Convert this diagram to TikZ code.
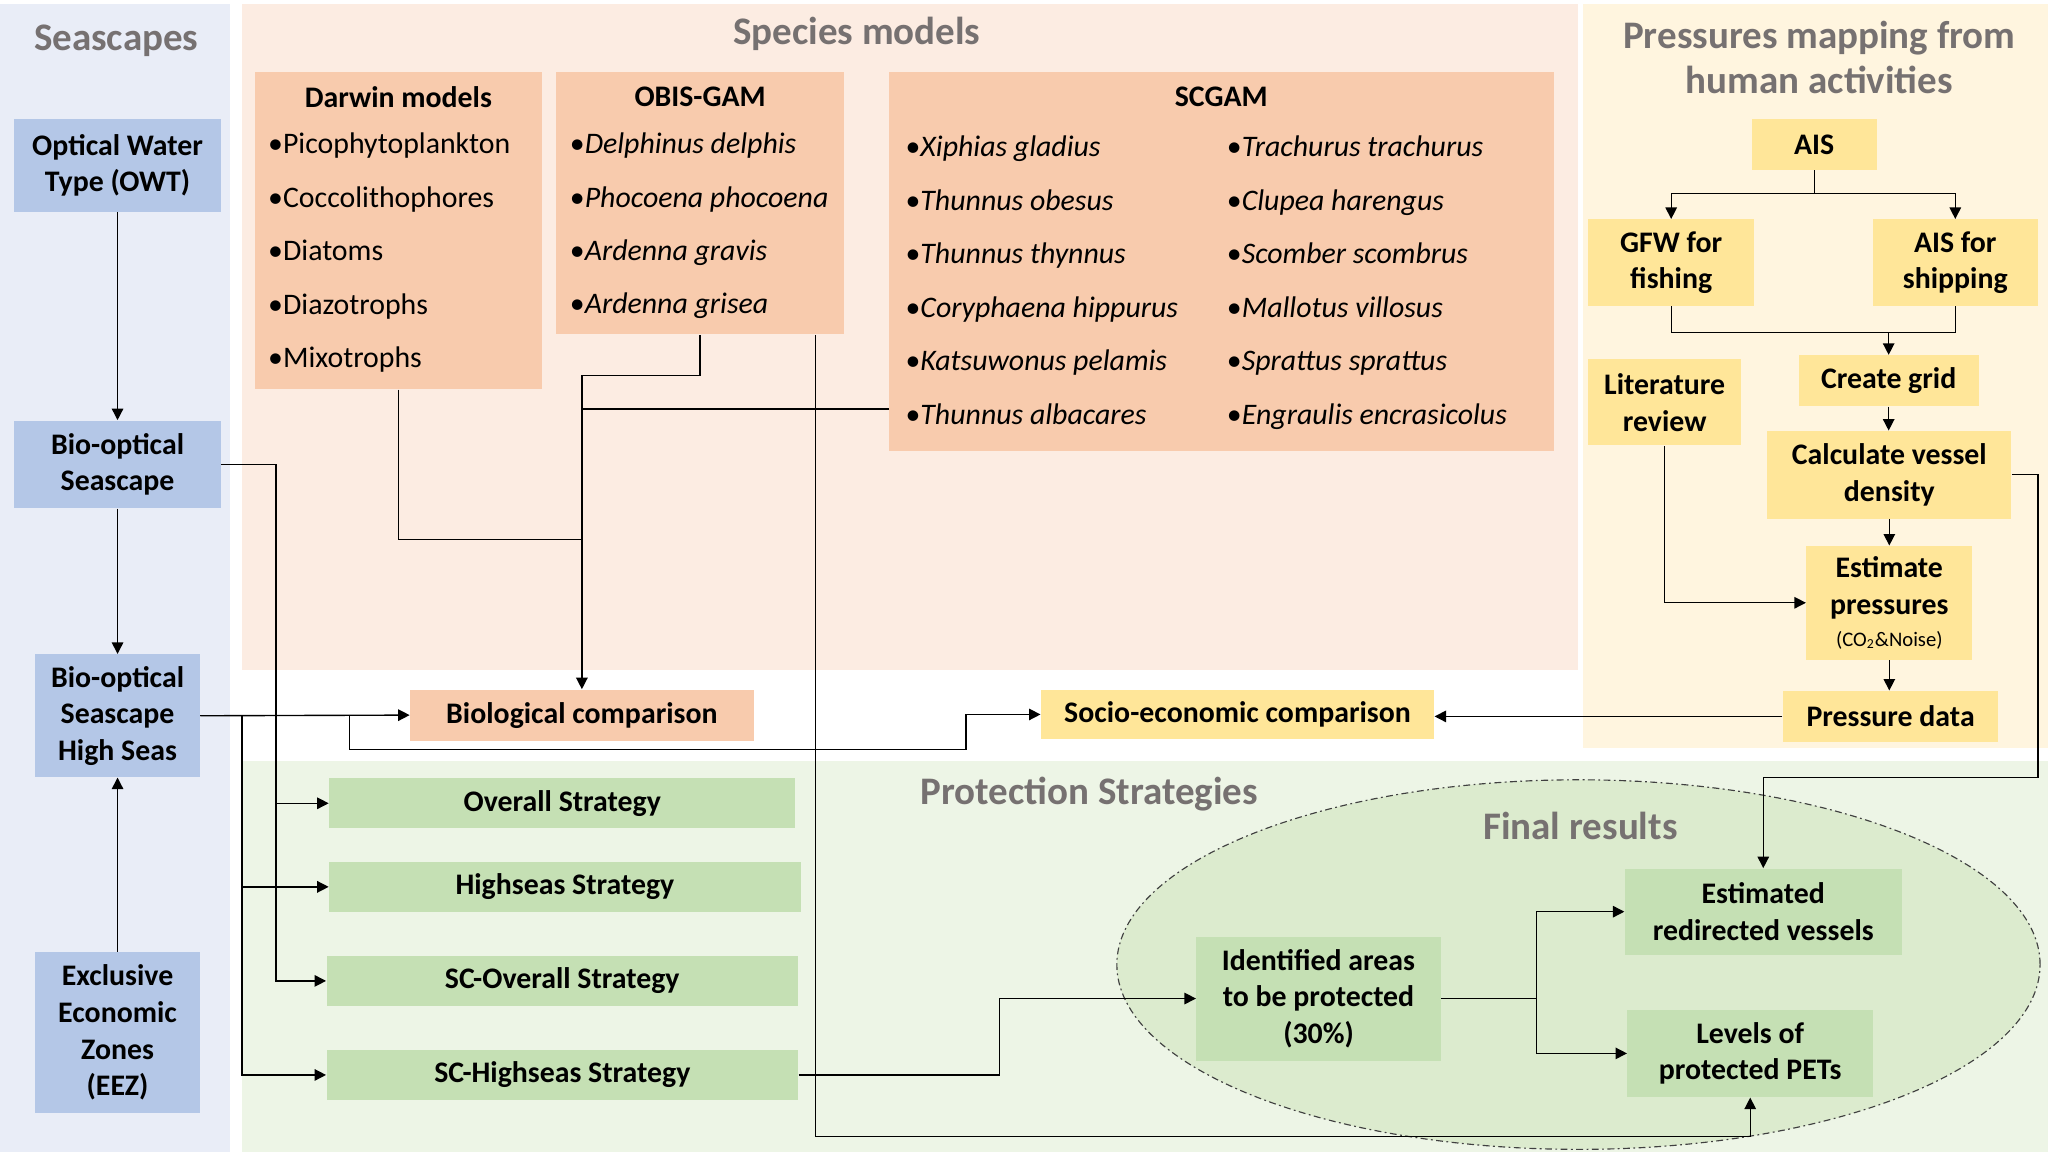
\documentclass[tikz,border=0pt]{standalone}
\usepackage{fontspec}
\setmainfont{Carlito}
\usetikzlibrary{arrows.meta,calc}
\definecolor{seablue}{RGB}{233,237,247}
\definecolor{specpeach}{RGB}{252,236,226}
\definecolor{presyellow}{RGB}{255,245,223}
\definecolor{protgreen}{RGB}{237,245,230}
\definecolor{finalgreen}{RGB}{220,235,206}
\definecolor{boxblue}{RGB}{180,199,231}
\definecolor{boxpeach}{RGB}{248,203,173}
\definecolor{boxyellow}{RGB}{255,230,153}
\definecolor{boxgreen}{RGB}{197,224,180}
\definecolor{titlegrey}{RGB}{118,113,113}
\newcommand{\grp}[1]{\textbullet#1}
\newcommand{\spname}[1]{\textbullet\textit{#1}}

\begin{document}
\begin{tikzpicture}[x=0.02cm,y=-0.02cm]
	\tikzset{>={Triangle[length=5pt,width=5pt]},
		txt/.style={align=center,inner sep=0pt,font=\fontsize{13}{16}\selectfont\bfseries},
		box/.style 2 args={txt,minimum width=#1*0.02cm,minimum height=#2*0.02cm},
		bluebox/.style={fill=boxblue},
		peachbox/.style={fill=boxpeach},
		yellowbox/.style={fill=boxyellow},
		greenbox/.style={fill=boxgreen},
		listtxt/.style={align=left,inner sep=0pt,font=\fontsize{13}{23.3}\selectfont},
		paneltitle/.style={align=center,inner sep=0pt,text=titlegrey,font=\fontsize{17}{20}\selectfont\bfseries},
		link/.style={line width=0.6pt},
		feed/.style={link,->}}
	\useasboundingbox (0,0) rectangle (1568,882);
	\fill[white] (0,0) rectangle (1568,882);
	\fill[seablue] (0,3) rectangle (176,882);
	\fill[specpeach] (185,3) rectangle (1208,513);
	\fill[presyellow] (1212,3) rectangle (1568,573);
	\fill[protgreen] (185,583) rectangle (1568,882);
	\draw[line width=0.5pt,black!75,fill=finalgreen,dash pattern=on 3pt off 1.5pt on 0.8pt off 1.5pt] (1208.5,738.5) ellipse [x radius=7.07cm,y radius=2.83cm];

	\node[paneltitle] (seatitle) at (89,31) {Seascapes};
	\node[paneltitle] (spectitle) at (656,26) {Species models};
	\node[paneltitle] (prestitle) at (1393,44) {Pressures mapping from\\human activities};
	\node[paneltitle] (prottitle) at (834,608) {Protection Strategies};
	\node[paneltitle] (finaltitle) at (1210,632) {Final results};

	\node[box={158}{71},bluebox] (owt) at (90,126.5) {Optical Water\\Type (OWT)};
	\node[box={158}{67},bluebox] (bos) at (90,355.5) {Bio-optical\\Seascape};
	\node[box={126}{94},bluebox] (boshs) at (90,548) {Bio-optical\\Seascape\\High Seas};
	\node[box={126}{123},bluebox] (eez) at (90,790.5) {Exclusive\\Economic\\Zones\\(EEZ)};

	\node[box={220}{243},peachbox] (darwin) at (305,176.5) {};
	\node[txt] (darwintitle) at (305,74) {Darwin models};
	\node[listtxt,anchor=west] (darwinlist) at (205,193.5) {\grp{Picophytoplankton}\\\grp{Coccolithophores}\\\grp{Diatoms}\\\grp{Diazotrophs}\\\grp{Mixotrophs}};
	\node[box={220}{201},peachbox] (obis) at (536,155.5) {};
	\node[txt] (obistitle) at (536,74) {OBIS-GAM};
	\node[listtxt,anchor=west] (obislist) at (436,173) {\spname{Delphinus delphis}\\\spname{Phocoena phocoena}\\\spname{Ardenna gravis}\\\spname{Ardenna grisea}};
	\node[box={509}{290},peachbox] (scgam) at (935.5,200) {};
	\node[txt] (scgamtitle) at (935,74) {SCGAM};
	\node[listtxt,anchor=west] (scgamleft) at (693,214.5) {\spname{Xiphias gladius}\\\spname{Thunnus obesus}\\\spname{Thunnus thynnus}\\\spname{Coryphaena hippurus}\\\spname{Katsuwonus pelamis}\\\spname{Thunnus albacares}};
	\node[listtxt,anchor=west] (scgamright) at (939,216.5) {\spname{Trachurus trachurus}\\\spname{Clupea harengus}\\\spname{Scomber scombrus}\\\spname{Mallotus villosus}\\\spname{Sprattus sprattus}\\\spname{Engraulis encrasicolus}};

	\node[box={263}{39},peachbox] (bio) at (445.5,547.5) {Biological comparison};
	\node[box={301}{38},yellowbox] (socio) at (947.5,547) {Socio-economic comparison};

	\node[box={96}{39},yellowbox] (ais) at (1389,110.5) {AIS};
	\node[box={127}{66},yellowbox] (gfw) at (1279.5,201) {GFW for\\fishing};
	\node[box={126}{66},yellowbox] (aisship) at (1497,201) {AIS for\\shipping};
	\node[box={138}{39},yellowbox] (grid) at (1446,291.5) {Create grid};
	\node[box={117}{66},yellowbox] (lit) at (1274.5,308) {Literature\\review};
	\node[box={187}{67},yellowbox] (calc) at (1446.5,363.5) {Calculate vessel\\density};
	\node[box={127}{87},yellowbox] (estp) at (1446.5,461.5) {Estimate\\pressures\\[-2pt]{\fontsize{9}{11}\selectfont\mdseries(CO\textsubscript{2}\&Noise)}};
	\node[box={165}{39},yellowbox] (pdata) at (1447.5,548.5) {Pressure data};

	\node[box={357}{38},greenbox] (overall) at (430.5,615) {Overall Strategy};
	\node[box={361}{38},greenbox] (highseas) at (432.5,679) {Highseas Strategy};
	\node[box={361}{38},greenbox] (scoverall) at (430.5,751) {SC-Overall Strategy};
	\node[box={361}{38},greenbox] (schighseas) at (430.5,823) {SC-Highseas Strategy};

	\node[box={187}{95},greenbox] (ident) at (1009.5,764.5) {Identified areas\\to be protected\\(30\%)};
	\node[box={212}{66},greenbox] (redir) at (1350,698) {Estimated\\redirected vessels};
	\node[box={188}{67},greenbox] (pets) at (1340,806.5) {Levels of\\protected PETs};

	\coordinate (dj) at (0,413);
	\coordinate (sj) at (0,313);
	\coordinate (botrun) at (0,870);
	\draw[feed] (owt) -- (bos);
	\draw[feed] (bos) -- (boshs);
	\draw[feed] (eez) -- (boshs);
	\draw[link] (darwin.south) |- (bio.north |- dj);
	\draw[link] (scgam.west |- sj) -- (bio.north |- sj);
	\draw[feed] (obis.south) -- ++(0,31) -| (bio.north);
	\draw[feed] ([xshift=-0.44cm]obis.south east) |- (pets.south |- botrun) -- (pets.south);
	\draw[feed] (boshs.east) -- (bio.west);
	\draw[feed] (boshs.east) -- ++(114,0) -- ++(0,26) -| ($(socio.west)+(-57,0)$) -- (socio.west);
	\draw[feed] (boshs.east) -- ++(32,0) |- (highseas.west);
	\draw[feed] (boshs.east) ++(32,0) |- (schighseas.west);
	\draw[feed] (bos.east) -- ++(42,0) |- (overall.west);
	\draw[feed] (bos.east) ++(42,0) |- (scoverall.west);
	\draw[feed] (schighseas.east) -- ++(154,0) |- (ident.west);
	\draw[feed] (ident.east) -- ++(73,0) |- (redir.west);
	\draw[feed] (ident.east) ++(73,0) |- (pets.west);
	\draw[link] (ais.south) -- ++(0,18) coordinate (aisfork);
	\draw[feed] (aisfork) -| (gfw.north);
	\draw[feed] (aisfork) -| (aisship.north);
	\draw[link] (gfw.south) -- ++(0,20) coordinate (gm) -| (aisship.south);
	\draw[feed] (grid.north |- gm) -- (grid.north);
	\draw[feed] (grid.south) -- (grid.south |- calc.north);
	\draw[feed] (calc.south) -- (calc.south |- estp.north);
	\draw[feed] (estp.south) -- (estp.south |- pdata.north);
	\draw[feed] (lit.south) |- (estp.west);
	\draw[feed] (pdata.west) -- (pdata.west -| socio.east);
	\draw[feed] (calc.east) -- ++(20,0) -- ++(0,232) -| (redir.north);
\end{tikzpicture}
\end{document}
